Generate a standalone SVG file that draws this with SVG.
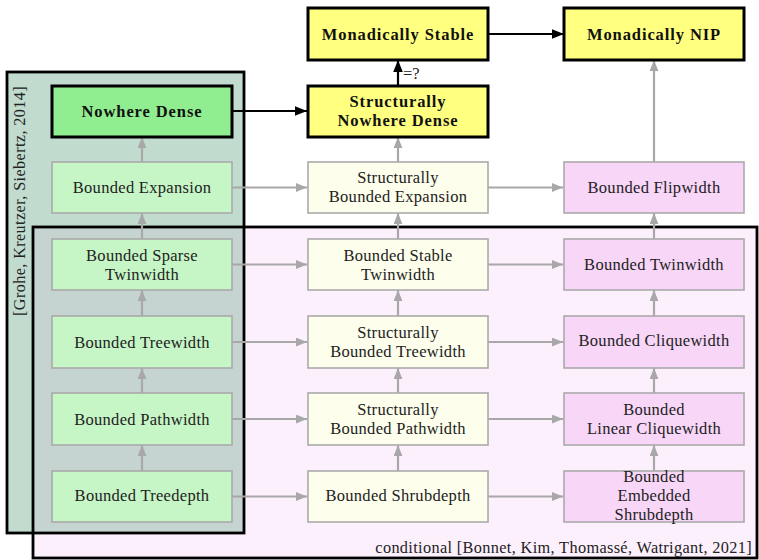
<svg xmlns="http://www.w3.org/2000/svg" width="759" height="560" viewBox="0 0 759 560">
  <defs>
    <marker id="ah-gray" viewBox="0 0 10 8" refX="10" refY="4" markerWidth="11" markerHeight="9" markerUnits="userSpaceOnUse" orient="auto">
      <path d="M0,0 L10,4 L0,8 Z" fill="#a8a8a8"/>
    </marker>
    <marker id="ah-black" viewBox="0 0 10 8" refX="10" refY="4" markerWidth="12" markerHeight="10" markerUnits="userSpaceOnUse" orient="auto">
      <path d="M0,0 L10,4 L0,8 Z" fill="#000"/>
    </marker>
  </defs>
  <style>
    text { font-family: "Liberation Serif", "Times New Roman", serif; fill: #222; }
    .lbl { font-size: 16.5px; letter-spacing: 0.3px; text-anchor: middle; }
    .blbl { font-size: 16.5px; font-weight: bold; letter-spacing: 0.9px; text-anchor: middle; fill: #111; }
    .thin { stroke: #aaaaaa; stroke-width: 1.6; }
    .bold { stroke: #000; stroke-width: 3; }
    .g { fill: #c6f5c6; }
    .gb { fill: #90ee90; }
    .y { fill: #fdfeec; }
    .yb { fill: #ffff80; }
    .p { fill: #f8d6f8; }
    .ga { stroke: #a8a8a8; stroke-width: 2.2; fill: none; marker-end: url(#ah-gray); }
    .ba { stroke: #000; stroke-width: 2.2; fill: none; marker-end: url(#ah-black); }
    .region { fill: none; stroke: #000; stroke-width: 2.8; }
  </style>

  <!-- background regions -->
  <g id="regions">
    <rect x="7" y="72" width="237" height="461" fill="#c1dccf"/>
    <rect x="33" y="227" width="724" height="331" fill="#fdf0fd"/>
    <rect x="33" y="227" width="211" height="306" fill="#c5d4d1"/>
    <rect class="region" x="7" y="72" width="237" height="461"/>
    <rect class="region" x="33" y="227" width="724" height="331"/>
    <text transform="translate(25,316) rotate(-90)" font-size="16.2" letter-spacing="0.4" fill="#333">[Grohe, Kreutzer, Siebertz, 2014]</text>
    <text x="752" y="553" font-size="16.3" letter-spacing="0.35" text-anchor="end" fill="#222">conditional [Bonnet, Kim, Thomassé, Watrigant, 2021]</text>
  </g>

  <!-- connectors -->
  <g id="connectors">
    <!-- black -->
    <line class="ba" x1="232" y1="111" x2="307" y2="111"/>
    <line class="ba" x1="489" y1="34" x2="564" y2="34"/>
    <line class="ba" x1="398" y1="85" x2="398" y2="60"/>
    <text x="403" y="79" font-size="16.5" fill="#444">=?</text>
    <!-- left column -->
    <line class="ga" x1="142" y1="471" x2="142" y2="445"/>
    <line class="ga" x1="142" y1="393" x2="142" y2="368"/>
    <line class="ga" x1="142" y1="316" x2="142" y2="290"/>
    <line class="ga" x1="142" y1="239" x2="142" y2="213"/>
    <line class="ga" x1="142" y1="162" x2="142" y2="137"/>
    <!-- middle column -->
    <line class="ga" x1="398" y1="471" x2="398" y2="445"/>
    <line class="ga" x1="398" y1="393" x2="398" y2="368"/>
    <line class="ga" x1="398" y1="316" x2="398" y2="290"/>
    <line class="ga" x1="398" y1="239" x2="398" y2="213"/>
    <line class="ga" x1="398" y1="162" x2="398" y2="137"/>
    <!-- right column -->
    <line class="ga" x1="654" y1="471" x2="654" y2="445"/>
    <line class="ga" x1="654" y1="393" x2="654" y2="368"/>
    <line class="ga" x1="654" y1="316" x2="654" y2="290"/>
    <line class="ga" x1="654" y1="239" x2="654" y2="213"/>
    <line class="ga" x1="654" y1="162" x2="654" y2="60"/>
    <!-- left to middle -->
    <line class="ga" x1="232" y1="187.5" x2="307" y2="187.5"/>
    <line class="ga" x1="232" y1="264.5" x2="307" y2="264.5"/>
    <line class="ga" x1="232" y1="342" x2="307" y2="342"/>
    <line class="ga" x1="232" y1="419" x2="307" y2="419"/>
    <line class="ga" x1="232" y1="496.5" x2="307" y2="496.5"/>
    <!-- middle to right -->
    <line class="ga" x1="488" y1="187.5" x2="563" y2="187.5"/>
    <line class="ga" x1="488" y1="264.5" x2="563" y2="264.5"/>
    <line class="ga" x1="488" y1="342" x2="563" y2="342"/>
    <line class="ga" x1="488" y1="419" x2="563" y2="419"/>
    <line class="ga" x1="488" y1="496.5" x2="563" y2="496.5"/>
  </g>

  <!-- top row -->
  <g id="monadically-stable">
    <rect class="bold yb" x="308" y="8" width="180" height="52"/>
    <text class="blbl" x="398" y="39.5">Monadically Stable</text>
  </g>
  <g id="monadically-nip">
    <rect class="bold yb" x="564" y="8" width="180" height="52"/>
    <text class="blbl" x="654" y="39.5">Monadically NIP</text>
  </g>

  <!-- row 2 -->
  <g id="nowhere-dense">
    <rect class="bold gb" x="52" y="86" width="180" height="51"/>
    <text class="blbl" x="142" y="117">Nowhere Dense</text>
  </g>
  <g id="structurally-nowhere-dense">
    <rect class="bold yb" x="308" y="86" width="180" height="51"/>
    <text class="blbl" x="398" y="107">Structurally</text>
    <text class="blbl" x="398" y="126">Nowhere Dense</text>
  </g>

  <!-- row 3 -->
  <g id="bounded-expansion">
    <rect class="thin g" x="52" y="162" width="180" height="51"/>
    <text class="lbl" x="142" y="193">Bounded Expansion</text>
  </g>
  <g id="structurally-bounded-expansion">
    <rect class="thin y" x="308" y="162" width="180" height="51"/>
    <text class="lbl" x="398" y="183">Structurally</text>
    <text class="lbl" x="398" y="202">Bounded Expansion</text>
  </g>
  <g id="bounded-flipwidth">
    <rect class="thin p" x="564" y="162" width="180" height="51"/>
    <text class="lbl" x="654" y="193">Bounded Flipwidth</text>
  </g>

  <!-- row 4 -->
  <g id="bounded-sparse-twinwidth">
    <rect class="thin g" x="52" y="239" width="180" height="51"/>
    <text class="lbl" x="142" y="261">Bounded Sparse</text>
    <text class="lbl" x="142" y="280">Twinwidth</text>
  </g>
  <g id="bounded-stable-twinwidth">
    <rect class="thin y" x="308" y="239" width="180" height="51"/>
    <text class="lbl" x="398" y="261">Bounded Stable</text>
    <text class="lbl" x="398" y="280">Twinwidth</text>
  </g>
  <g id="bounded-twinwidth">
    <rect class="thin p" x="564" y="239" width="180" height="51"/>
    <text class="lbl" x="654" y="270">Bounded Twinwidth</text>
  </g>

  <!-- row 5 -->
  <g id="bounded-treewidth">
    <rect class="thin g" x="52" y="316" width="180" height="52"/>
    <text class="lbl" x="142" y="348">Bounded Treewidth</text>
  </g>
  <g id="structurally-bounded-treewidth">
    <rect class="thin y" x="308" y="316" width="180" height="52"/>
    <text class="lbl" x="398" y="338">Structurally</text>
    <text class="lbl" x="398" y="357">Bounded Treewidth</text>
  </g>
  <g id="bounded-cliquewidth">
    <rect class="thin p" x="564" y="316" width="180" height="52"/>
    <text class="lbl" x="654" y="346">Bounded Cliquewidth</text>
  </g>

  <!-- row 6 -->
  <g id="bounded-pathwidth">
    <rect class="thin g" x="52" y="393" width="180" height="52"/>
    <text class="lbl" x="142" y="425">Bounded Pathwidth</text>
  </g>
  <g id="structurally-bounded-pathwidth">
    <rect class="thin y" x="308" y="393" width="180" height="52"/>
    <text class="lbl" x="398" y="415">Structurally</text>
    <text class="lbl" x="398" y="434">Bounded Pathwidth</text>
  </g>
  <g id="bounded-linear-cliquewidth">
    <rect class="thin p" x="564" y="393" width="180" height="52"/>
    <text class="lbl" x="654" y="415">Bounded</text>
    <text class="lbl" x="654" y="434">Linear Cliquewidth</text>
  </g>

  <!-- row 7 -->
  <g id="bounded-treedepth">
    <rect class="thin g" x="52" y="471" width="180" height="51"/>
    <text class="lbl" x="142" y="501">Bounded Treedepth</text>
  </g>
  <g id="bounded-shrubdepth">
    <rect class="thin y" x="308" y="471" width="180" height="51"/>
    <text class="lbl" x="398" y="501">Bounded Shrubdepth</text>
  </g>
  <g id="bounded-embedded-shrubdepth">
    <rect class="thin p" x="564" y="471" width="180" height="51"/>
    <text class="lbl" x="654" y="482">Bounded</text>
    <text class="lbl" x="654" y="501">Embedded</text>
    <text class="lbl" x="654" y="520">Shrubdepth</text>
  </g>
</svg>
